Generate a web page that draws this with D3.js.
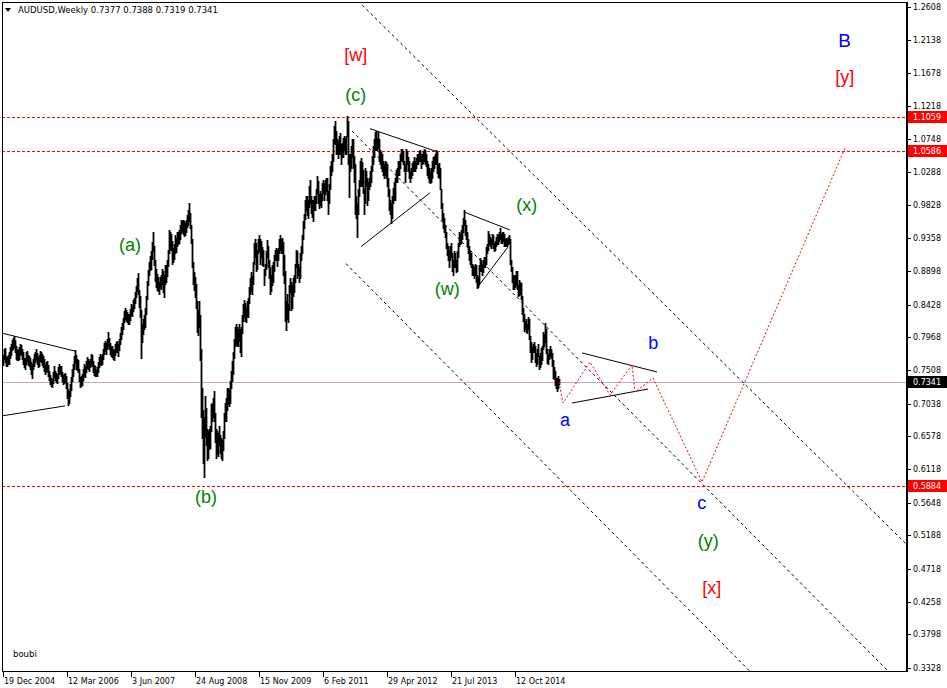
<!DOCTYPE html>
<html><head><meta charset="utf-8">
<script src="https://cdn.jsdelivr.net/npm/d3@7"></script>
<style>body{margin:0;background:#fff}svg{display:block}</style>
</head><body>
<svg id="c" width="947" height="688"></svg>
<script>
// ---------- DATA ----------
const startDate = "2004-12-19";           // first weekly bar
// weekly [high, low] per calendar year
const bars2004 = [[0.772,0.758],[0.781,0.767]];
const bars2005 = [[0.782,0.762],[0.771,0.757],[0.769,0.756],[0.772,0.759],[0.776,0.760],[0.783,0.768],[0.788,0.772],[0.793,0.779],[0.796,0.781],[0.799,0.783],
[0.793,0.776],[0.785,0.767],[0.780,0.765],[0.779,0.765],[0.783,0.767],[0.788,0.772],[0.786,0.773],[0.781,0.767],[0.776,0.760],[0.768,0.755],
[0.768,0.753],[0.776,0.760],[0.777,0.764],[0.772,0.758],[0.770,0.757],[0.768,0.752],[0.762,0.745],[0.759,0.740],[0.767,0.752],[0.773,0.757],
[0.776,0.762],[0.781,0.765],[0.775,0.760],[0.769,0.755],[0.772,0.757],[0.778,0.764],[0.776,0.762],[0.773,0.758],[0.770,0.755],[0.766,0.750],
[0.760,0.745],[0.762,0.748],[0.764,0.750],[0.758,0.743],[0.749,0.737],[0.744,0.731],[0.740,0.728],[0.739,0.727],[0.748,0.733],[0.756,0.741],
[0.750,0.737],[0.747,0.734]];
const bars2006 = [[0.746,0.732],[0.755,0.740],[0.760,0.746],[0.757,0.745],[0.756,0.742],[0.748,0.735],[0.744,0.731],[0.746,0.732],[0.747,0.734],[0.742,0.726],
[0.732,0.712],[0.724,0.702],[0.721,0.704],[0.731,0.714],[0.741,0.723],[0.752,0.736],[0.760,0.742],[0.770,0.753],[0.779,0.761],[0.772,0.752],
[0.766,0.751],[0.765,0.748],[0.752,0.735],[0.741,0.727],[0.743,0.729],[0.745,0.730],[0.753,0.737],[0.760,0.743],[0.756,0.741],[0.764,0.748],
[0.769,0.754],[0.766,0.752],[0.764,0.750],[0.767,0.755],[0.773,0.758],[0.772,0.757],[0.764,0.748],[0.758,0.744],[0.757,0.743],[0.751,0.742],
[0.755,0.743],[0.762,0.748],[0.769,0.755],[0.774,0.760],[0.771,0.758],[0.773,0.760],[0.781,0.766],[0.789,0.773],[0.792,0.778],[0.789,0.774],
[0.795,0.780],[0.804,0.785]];
const bars2007 = [[0.796,0.780],[0.789,0.774],[0.785,0.771],[0.784,0.769],[0.781,0.767],[0.779,0.765],[0.787,0.772],[0.790,0.776],[0.792,0.776],[0.787,0.771],
[0.795,0.779],[0.803,0.788],[0.811,0.795],[0.817,0.802],[0.824,0.809],[0.834,0.818],[0.838,0.823],[0.835,0.820],[0.832,0.818],[0.830,0.815],
[0.829,0.816],[0.836,0.821],[0.844,0.828],[0.841,0.827],[0.849,0.834],[0.852,0.838],[0.860,0.845],[0.869,0.853],[0.880,0.862],[0.887,0.858],
[0.864,0.840],[0.855,0.825],[0.835,0.768],[0.815,0.790],[0.823,0.801],[0.828,0.808],[0.838,0.812],[0.855,0.830],[0.876,0.850],[0.892,0.870],
[0.902,0.884],[0.911,0.892],[0.918,0.893],[0.931,0.907],[0.945,0.918],[0.925,0.898],[0.905,0.876],[0.893,0.868],[0.886,0.863],[0.882,0.862],
[0.875,0.858],[0.882,0.866]];
const bars2008 = [[0.885,0.865],[0.893,0.872],[0.890,0.860],[0.884,0.854],[0.899,0.872],[0.898,0.875],[0.906,0.883],[0.920,0.897],[0.948,0.915],[0.945,0.920],
[0.942,0.920],[0.932,0.900],[0.922,0.903],[0.928,0.907],[0.940,0.915],[0.937,0.917],[0.945,0.925],[0.945,0.928],[0.947,0.930],[0.955,0.935],
[0.962,0.943],[0.960,0.945],[0.961,0.942],[0.960,0.939],[0.958,0.941],[0.962,0.945],[0.968,0.952],[0.975,0.954],[0.985,0.960],[0.972,0.950],
[0.955,0.930],[0.935,0.895],[0.902,0.872],[0.889,0.863],[0.882,0.853],[0.872,0.838],[0.848,0.805],[0.835,0.800],[0.848,0.812],[0.828,0.765],
[0.780,0.685],[0.725,0.655],[0.695,0.620],[0.685,0.601],[0.715,0.657],[0.698,0.645],[0.668,0.624],[0.665,0.627],[0.668,0.640],[0.673,0.642],
[0.703,0.665],[0.705,0.680]];
const bars2009 = [[0.712,0.685],[0.722,0.680],[0.690,0.650],[0.668,0.627],[0.665,0.633],[0.663,0.630],[0.672,0.645],[0.660,0.635],[0.655,0.627],[0.652,0.625],
[0.665,0.638],[0.690,0.655],[0.704,0.680],[0.712,0.680],[0.725,0.695],[0.726,0.703],[0.723,0.700],[0.735,0.705],[0.750,0.725],[0.763,0.735],
[0.776,0.745],[0.795,0.768],[0.812,0.785],[0.815,0.788],[0.812,0.784],[0.808,0.785],[0.816,0.792],[0.808,0.776],[0.812,0.770],[0.828,0.803],
[0.843,0.820],[0.849,0.826],[0.845,0.820],[0.840,0.818],[0.848,0.825],[0.852,0.825],[0.868,0.845],[0.880,0.858],[0.888,0.862],[0.883,0.858],
[0.903,0.872],[0.930,0.900],[0.935,0.910],[0.930,0.890],[0.920,0.893],[0.935,0.915],[0.940,0.918],[0.935,0.900],[0.932,0.910],[0.923,0.898],
[0.920,0.897],[0.893,0.870],[0.900,0.885]];
const bars2010 = [[0.918,0.893],[0.933,0.910],[0.925,0.895],[0.905,0.880],[0.895,0.858],[0.885,0.862],[0.898,0.870],[0.902,0.875],[0.912,0.890],[0.920,0.905],
[0.922,0.905],[0.920,0.897],[0.922,0.905],[0.935,0.915],[0.940,0.920],[0.935,0.915],[0.937,0.915],[0.931,0.885],[0.912,0.873],[0.890,0.820],
[0.848,0.807],[0.858,0.823],[0.843,0.818],[0.870,0.835],[0.880,0.860],[0.875,0.835],[0.870,0.838],[0.880,0.855],[0.885,0.860],[0.900,0.875],
[0.920,0.895],[0.918,0.880],[0.900,0.885],[0.895,0.875],[0.915,0.880],[0.925,0.905],[0.940,0.915],[0.960,0.935],[0.970,0.950],[0.990,0.963],
[0.995,0.975],[0.995,0.968],[0.990,0.965],[1.010,0.980],[1.018,0.985],[0.995,0.972],[0.990,0.966],[0.990,0.960],[0.995,0.975],[0.995,0.975],
[1.005,0.985],[1.024,1.000]];
const bars2011 = [[1.017,0.985],[0.998,0.978],[1.003,0.983],[0.998,0.980],[1.013,0.990],[1.018,0.999],[1.013,0.990],[1.018,0.998],[1.020,1.002],[1.020,0.990],
[1.003,0.970],[1.012,0.985],[1.037,1.005],[1.045,1.025],[1.055,1.030],[1.075,1.045],[1.094,1.070],[1.101,1.068],[1.087,1.055],[1.075,1.055],
[1.073,1.048],[1.080,1.055],[1.084,1.055],[1.068,1.040],[1.070,1.050],[1.077,1.050],[1.080,1.060],[1.077,1.055],[1.080,1.055],[1.108,1.080],
[1.100,1.040],[1.055,0.994],[1.055,1.030],[1.065,1.035],[1.075,1.050],[1.075,1.035],[1.052,1.015],[1.040,0.970],[0.995,0.965],[0.985,0.938],
[1.005,0.970],[1.018,0.995],[1.045,1.010],[1.048,1.010],[1.043,1.010],[1.032,1.000],[1.005,0.970],[1.035,0.985],[1.030,1.010],[1.020,0.982],
[1.015,0.990],[1.020,1.005]];
const bars2012 = [[1.030,1.010],[1.037,1.015],[1.052,1.030],[1.065,1.040],[1.075,1.050],[1.085,1.060],[1.086,1.060],[1.077,1.060],[1.085,1.063],[1.075,1.045],
[1.060,1.040],[1.057,1.035],[1.055,1.030],[1.045,1.025],[1.040,1.020],[1.045,1.025],[1.043,1.020],[1.040,1.010],[1.020,0.995],[1.005,0.975],
[0.990,0.970],[0.985,0.958],[0.995,0.965],[1.007,0.985],[1.015,0.990],[1.020,0.990],[1.032,1.015],[1.035,1.015],[1.045,1.025],[1.045,1.025],
[1.055,1.035],[1.062,1.045],[1.062,1.045],[1.058,1.040],[1.045,1.030],[1.040,1.015],[1.062,1.030],[1.058,1.040],[1.050,1.030],[1.045,1.020],
[1.030,1.015],[1.035,1.020],[1.042,1.025],[1.045,1.030],[1.050,1.030],[1.045,1.030],[1.048,1.035],[1.055,1.040],[1.055,1.040],[1.058,1.045],
[1.060,1.045],[1.055,1.035]];
const bars2013 = [[1.055,1.040],[1.058,1.042],[1.062,1.045],[1.060,1.040],[1.055,1.038],[1.045,1.025],[1.040,1.020],[1.035,1.015],[1.030,1.013],[1.035,1.015],
[1.045,1.020],[1.050,1.030],[1.052,1.035],[1.055,1.040],[1.060,1.040],[1.057,1.028],[1.040,1.022],[1.042,1.020],[1.035,1.005],[1.005,0.978],
[0.985,0.962],[0.972,0.950],[0.965,0.945],[0.955,0.938],[0.945,0.922],[0.930,0.912],[0.925,0.905],[0.920,0.895],[0.925,0.905],[0.930,0.910],
[0.915,0.890],[0.905,0.885],[0.918,0.895],[0.915,0.895],[0.905,0.888],[0.918,0.890],[0.930,0.910],[0.945,0.925],[0.942,0.928],[0.948,0.930],
[0.955,0.935],[0.965,0.945],[0.976,0.955],[0.962,0.940],[0.955,0.935],[0.945,0.925],[0.935,0.915],[0.925,0.905],[0.918,0.900],[0.915,0.895],
[0.900,0.885],[0.898,0.885]];
const bars2014 = [[0.895,0.880],[0.900,0.885],[0.898,0.875],[0.885,0.866],[0.882,0.868],[0.898,0.873],[0.908,0.890],[0.905,0.890],[0.900,0.885],[0.905,0.888],
[0.910,0.895],[0.910,0.895],[0.923,0.900],[0.928,0.915],[0.946,0.920],[0.942,0.928],[0.938,0.925],[0.935,0.922],[0.942,0.928],[0.940,0.922],
[0.930,0.918],[0.932,0.920],[0.938,0.925],[0.942,0.928],[0.940,0.928],[0.945,0.932],[0.950,0.935],[0.942,0.930],[0.945,0.930],[0.945,0.932],
[0.942,0.925],[0.935,0.925],[0.937,0.925],[0.935,0.925],[0.938,0.928],[0.940,0.930],[0.935,0.900],[0.905,0.890],[0.895,0.875],[0.885,0.865],
[0.885,0.865],[0.885,0.868],[0.890,0.870],[0.890,0.865],[0.870,0.855],[0.878,0.856],[0.875,0.858],[0.873,0.850],[0.855,0.830],[0.838,0.820],
[0.830,0.806],[0.820,0.808]];
const bars2015 = [[0.822,0.805],[0.815,0.803],[0.825,0.808],[0.822,0.795],[0.798,0.776],[0.790,0.762],[0.783,0.767],[0.787,0.776],[0.790,0.776],[0.785,0.762],
[0.775,0.756],[0.780,0.760],[0.787,0.770],[0.770,0.753],[0.775,0.755],[0.782,0.760],[0.785,0.765],[0.805,0.780],[0.802,0.785],[0.817,0.790],
[0.808,0.775],[0.780,0.761],[0.773,0.760],[0.780,0.767],[0.785,0.770],[0.780,0.768],[0.775,0.757],[0.765,0.740],[0.755,0.738],[0.750,0.730],
[0.740,0.725],[0.740,0.722],[0.743,0.725],[0.7388,0.7319]];

const titleText = "AUDUSD,Weekly  0.7377 0.7388 0.7319 0.7341";
const lastPrice = 0.7341;
const priceTicks = ["1.2608","1.2138","1.1678","1.1218","1.0748","1.0288","0.9828","0.9358","0.8898","0.8428","0.7968",
                    "0.7508","0.7038","0.6578","0.6118","0.5648","0.5188","0.4718","0.4258","0.3798","0.3328"];
const dateTickLabels = ["19 Dec 2004","12 Mar 2006","3 Jun 2007","24 Aug 2008","15 Nov 2009","6 Feb 2011","29 Apr 2012","21 Jul 2013","12 Oct 2014"];
const dateTickDates  = ["2004-12-19","2006-03-12","2007-06-03","2008-08-24","2009-11-15","2011-02-06","2012-04-29","2013-07-21","2014-10-12"];
const levels = [1.1059, 1.0586, 0.5884];
// lines given as [week offset from start, price]
const channels = [ {p:[[455,1.1302],[564,0.9785]], both:true},
                   {p:[[349,1.0865],[754,0.5135]], both:false},
                   {p:[[343,0.9004],[659,0.4524]], both:false} ];
const triangles = [ [[-1,0.8028],[72,0.7775]], [[-1,0.6865],[62,0.7005]],
                    [[367,1.0899],[434,1.0576]], [[358,0.9242],[427,0.9999]],
                    [[461,0.9729],[507,0.9476]], [[474,0.8662],[505,0.9238]],
                    [[579,0.7749],[654,0.7482]], [[569,0.7046],[645,0.7242]] ];
const projection = [[556,0.7341],[560,0.7046],[587,0.7622],[607,0.7159],[629,0.7580],[632,0.7200],[650,0.7397],[699,0.5937],[842,1.0627]];
const waveLabels = [
  {t:"[w]", w:352.7, p:1.1843, c:"#ff0000", s:18},
  {t:"(c)", w:352.7, p:1.1281, c:"#008000", s:18},
  {t:"(a)", w:127,   p:0.9174, c:"#008000", s:18},
  {t:"(b)", w:203,   p:0.5642, c:"#008000", s:18},
  {t:"(w)", w:444.3, p:0.8563, c:"#008000", s:18},
  {t:"(x)", w:523.7, p:0.9736, c:"#008000", s:18},
  {t:"(y)", w:705.3, p:0.5024, c:"#008000", s:18},
  {t:"[x]", w:708.7, p:0.4364, c:"#ff0000", s:18},
  {t:"[y]", w:841.7, p:1.1541, c:"#ff0000", s:18},
  {t:"B",   w:841.7, p:1.2046, c:"#0000ff", s:19},
  {t:"a",   w:562,   p:0.6723, c:"#0000ff", s:18},
  {t:"b",   w:650.3, p:0.7805, c:"#0000ff", s:18},
  {t:"c",   w:698.7, p:0.5558, c:"#0000ff", s:18}
];
const watermark = "boubi";

// ---------- DRAW ----------
const bars = [].concat(bars2004,bars2005,bars2006,bars2007,bars2008,bars2009,bars2010,bars2011,bars2012,bars2013,bars2014,bars2015);
const WEEK = 7*864e5;
const t0 = new Date(startDate+"T00:00:00Z").getTime();
const dateAt = i => new Date(t0 + i*WEEK);
const L=2, T=2, R=906, B=671;
const x = d3.scaleUtc().domain([dateAt(-1), dateAt(R-L-1)]).range([L, R]);
const y = d3.scaleLinear().domain([0.3282, 1.2678]).range([B, T]);
const X = i => x(dateAt(i));

const svg = d3.select("#c");
svg.append("rect").attr("width",947).attr("height",688).attr("fill","#fff");
svg.append("clipPath").attr("id","plot").append("rect").attr("x",L).attr("y",T).attr("width",R-L).attr("height",B-T);
const g = svg.append("g").attr("clip-path","url(#plot)");
const snap = v => Math.round(v)+0.5;

// level lines
g.selectAll(".lvl").data(levels).join("line")
  .attr("x1",L).attr("x2",R).attr("y1",d=>snap(y(d))).attr("y2",d=>snap(y(d)))
  .attr("stroke","#ff0000").attr("stroke-width",1).attr("stroke-dasharray","3,2");
// current price line
g.append("line").attr("x1",L).attr("x2",R).attr("y1",snap(y(lastPrice))).attr("y2",snap(y(lastPrice)))
  .attr("stroke","#c8a6cc").attr("stroke-width",1);

// channel lines
channels.forEach(c=>{
  const [a,b] = c.p;
  const k = (b[1]-a[1])/(b[0]-a[0]);
  const i0 = c.both ? -50 : a[0], i1 = 1000;
  g.append("line").attr("x1",X(i0)).attr("y1",y(a[1]+k*(i0-a[0])))
    .attr("x2",X(i1)).attr("y2",y(a[1]+k*(i1-a[0])))
    .attr("stroke","#000").attr("stroke-width",1).attr("stroke-dasharray","3,3");
});
// triangle lines
g.selectAll(".tri").data(triangles).join("line")
  .attr("x1",d=>X(d[0][0])).attr("y1",d=>y(d[0][1]))
  .attr("x2",d=>X(d[1][0])).attr("y2",d=>y(d[1][1]))
  .attr("stroke","#000").attr("stroke-width",1);

// bars
g.append("g").selectAll("line").data(bars).join("line")
  .attr("x1",(d,i)=>Math.round(X(i))+0.5).attr("x2",(d,i)=>Math.round(X(i))+0.5)
  .attr("y1",d=>Math.round(y(d[0]))).attr("y2",d=>Math.round(y(d[1]))+1)
  .attr("stroke","#000").attr("stroke-width",1.8);

// projection
g.append("path").datum(projection)
  .attr("d", d3.line().x(d=>X(d[0])).y(d=>y(d[1])))
  .attr("fill","none").attr("stroke","#ff0000").attr("stroke-width",1).attr("stroke-dasharray","2,2");

// wave labels
g.selectAll(".wl").data(waveLabels).join("text")
  .attr("x",d=>X(d.w)).attr("y",d=>y(d.p)).attr("text-anchor","middle")
  .attr("font-family","'Liberation Sans', Arial, sans-serif").attr("font-size",d=>d.s)
  .attr("fill",d=>d.c).text(d=>d.t);

// watermark
svg.append("text").attr("x",13).attr("y",657).attr("font-family","'DejaVu Sans', sans-serif")
  .attr("font-size",8.5).attr("fill","#000").text(watermark);

// frame
svg.append("rect").attr("x",L+0.5).attr("y",T+0.5).attr("width",R-L).attr("height",B-T)
  .attr("fill","none").attr("stroke","#000");
svg.append("line").attr("x1",R+1).attr("x2",R+1).attr("y1",T).attr("y2",B+1).attr("stroke","#000").attr("stroke-width",2);

// price axis
const pa = svg.append("g");
priceTicks.forEach(s=>{
  const yy = Math.round(y(+s));
  pa.append("line").attr("x1",R+2).attr("x2",R+5).attr("y1",yy+0.5).attr("y2",yy+0.5).attr("stroke","#000");
  pa.append("text").attr("x",R+7).attr("y",yy+3).attr("font-family","'DejaVu Sans', sans-serif")
    .attr("font-size",8).attr("fill","#000").text(s);
});
// price boxes
const boxes = levels.map(v=>({v, bg:"#ff0000"})).concat([{v:lastPrice, bg:"#000"}]);
boxes.forEach(b=>{
  const yy = Math.round(y(b.v));
  pa.append("rect").attr("x",R+2).attr("y",yy-6).attr("width",947-R-2).attr("height",12).attr("fill",b.bg);
  pa.append("text").attr("x",R+7).attr("y",yy+3).attr("font-family","'DejaVu Sans', sans-serif")
    .attr("font-size",8).attr("fill","#fff").text(b.v.toFixed(4));
});

// time axis
const ta = svg.append("g");
dateTickLabels.forEach((s,k)=>{
  const xx = Math.round(x(new Date(dateTickDates[k]+"T00:00:00Z")));
  ta.append("line").attr("x1",xx+0.5).attr("x2",xx+0.5).attr("y1",B+1).attr("y2",B+6).attr("stroke","#000");
  ta.append("text").attr("x",xx+1).attr("y",684).attr("font-family","'DejaVu Sans', sans-serif")
    .attr("font-size",8).attr("fill","#000").text(s);
});

// title
svg.append("path").attr("d","M5,8 L11,8 L8,12 Z").attr("fill","#000");
svg.append("text").attr("x",18).attr("y",13).attr("font-family","'DejaVu Sans', sans-serif")
  .attr("font-size",8.5).attr("fill","#000").text(titleText);
</script>
</body></html>
